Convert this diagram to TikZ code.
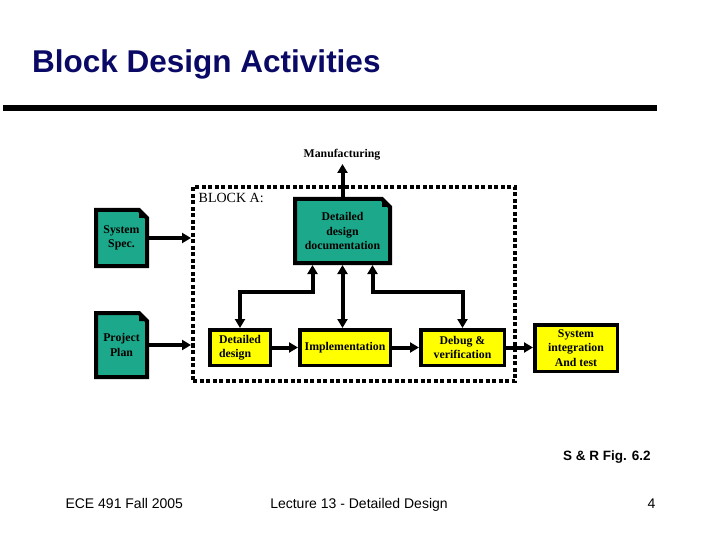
\documentclass[tikz,border=0pt]{standalone}
\usepackage{fontspec}
\setmainfont{Liberation Serif}
\setsansfont{Liberation Sans}
\usetikzlibrary{arrows.meta,backgrounds}
\definecolor{slideNavy}{HTML}{0A0A66}
\definecolor{docTeal}{HTML}{1CA98B}
\definecolor{taskYellow}{HTML}{FFFF00}

\begin{document}
\begin{tikzpicture}[x=1pt,y=-1pt,>={Triangle[length=9pt,width=10pt]}]
\useasboundingbox (0,0) rectangle (720,540);
\node[anchor=base west,inner sep=0pt,text=slideNavy,font=\sffamily\bfseries\fontsize{31.5}{38}\selectfont] (title) at (32,73) {Block Design Activities};
\path[fill=black] (3,105) rectangle (657,111);
\tikzset{link/.style={draw=black,line width=4pt},boxfont/.style={font=\bfseries\fontsize{11.8}{14.5}\selectfont},docbox/.style={boxfont,inner sep=1pt,outer sep=0pt,align=center},taskbox/.style={boxfont,draw=black,fill=taskYellow,line width=3.5pt,inner sep=1pt,align=center},blockarea/.style={draw=black,line width=4pt,dash pattern=on 4pt off 2.5pt}}
\node[blockarea,minimum width=322pt,minimum height=194pt] (blk) at (354,284) {};
\node[anchor=base west,inner sep=0pt,font=\fontsize{14}{16}\selectfont] (blabel) at (198.5,203) {BLOCK A:};
\node[docbox,minimum width=51pt,minimum height=56pt] (spec) at (121.5,238) {System\\Spec.};
\node[docbox,minimum width=51pt,minimum height=64pt] (plan) at (121.5,345) {Project\\Plan};
\node[docbox,minimum width=95pt,minimum height=64pt] (doc) at (342.5,231) {Detailed\\design\\documentation};
\node[boxfont] (mfg) at (342,155) {Manufacturing};
\node[taskbox,align=left,minimum width=60.5pt,minimum height=35.5pt] (dd) at (240,347.5) {Detailed\\design};
\node[taskbox,minimum width=90.5pt,minimum height=35.5pt] (impl) at (345,347.5) {Implementation};
\node[taskbox,minimum width=83.5pt,minimum height=35.5pt] (dbg) at (462.5,347.5) {Debug \&\\verification};
\node[taskbox,minimum width=82.5pt,minimum height=46.5pt] (sys) at (576,348) {System\\integration\\And test};
% document shapes behind the text
\begin{scope}[on background layer]
\path[fill=white] (0,0) rectangle (720,540);
\foreach \d in {spec,plan,doc} {
  \draw[fill=docTeal,line width=4pt] (\d.south west) -- (\d.north west) -- ([xshift=-8pt]\d.north east) -- ([yshift=-8pt]\d.north east) -- (\d.south east) -- cycle;
  \fill ([xshift=-8pt]\d.north east) -- ([yshift=-8pt]\d.north east) -- ([xshift=-8pt,yshift=-8pt]\d.north east) -- cycle;
}
\end{scope}
\draw[link,->] (spec.east) -- (spec.east -| blk.west); \draw[link,->] (plan.east) -- (plan.east -| blk.west);
\draw[link,->] (dd.east) -- (impl.west); \draw[link,->] (impl.east) -- (dbg.west); \draw[link,->] (dbg.east) -- (dbg.east -| sys.west);
\draw[link,->] (doc.north) -- (doc.north |- mfg.south);
\draw[link,<->,shorten <=2pt] ([xshift=-30pt]doc.south) -- ++(0,29) -| (dd.north);
\draw[link,<->,shorten <=2pt] (doc.south) -- (doc.south |- impl.north);
\draw[link,<->,shorten <=2pt] ([xshift=30pt]doc.south) -- ++(0,29) -| (dbg.north);
\node[anchor=base,font=\sffamily\bfseries\fontsize{13.5}{16}\selectfont] (source) at (607,460) {S \& R Fig. 6.2};
\node[anchor=base west,font=\sffamily\fontsize{14}{16}\selectfont] (course) at (62,508) {ECE 491 Fall 2005};
\node[anchor=base,font=\sffamily\fontsize{14}{16}\selectfont] (lecture) at (359,508) {Lecture 13 - Detailed Design};
\node[anchor=base east,font=\sffamily\fontsize{14}{16}\selectfont] (page) at (659,508) {4};
\end{tikzpicture}
\end{document}
